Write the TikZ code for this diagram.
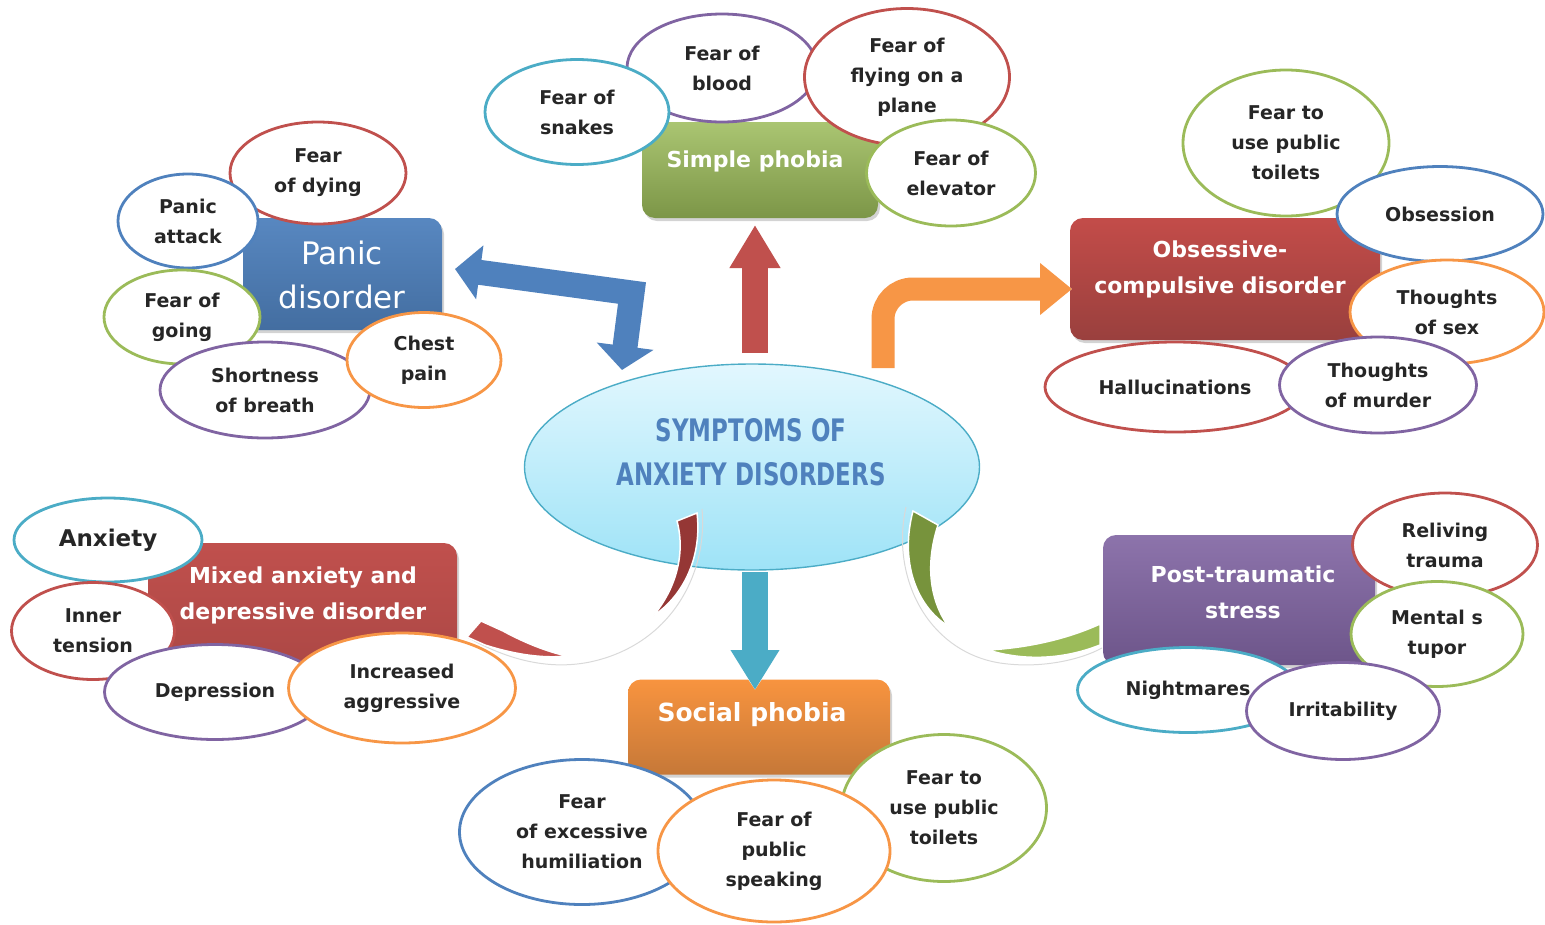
\documentclass[tikz,border=0pt]{standalone}
\usepackage{fontspec}
\setmainfont{DejaVu Sans}
\newfontfamily\cfont[FakeStretch=0.74]{DejaVu Sans}
\usetikzlibrary{shapes.geometric,arrows.meta,shadows}
\definecolor{cblue}{HTML}{4F81BD}
\definecolor{cred}{HTML}{C0504D}
\definecolor{cgreen}{HTML}{9BBB59}
\definecolor{cpurple}{HTML}{8064A2}
\definecolor{ccyan}{HTML}{4BACC6}
\definecolor{corange}{HTML}{F79646}
\definecolor{txtc}{HTML}{262626}
\definecolor{dred}{HTML}{953735}
\definecolor{dgreen}{HTML}{77933C}
\definecolor{ctop}{HTML}{E2F7FE}
\definecolor{cbot}{HTML}{9EE3F7}
\newcommand\bubfont{\fontsize{19}{30}\selectfont\bfseries}
\newcommand\boxfont{\fontsize{22}{36}\selectfont\bfseries}
\tikzset{
  bub/.style={ellipse, fill=white, line width=2.8pt, inner sep=0pt, align=center, text=txtc, font=\bubfont},
  bb/.style n args={3}{bub, draw=#1, minimum width=#2pt, minimum height=#3pt},
  catbox/.style n args={4}{rectangle, rounded corners=13pt, minimum width=#3pt, minimum height=#4pt,
    top color=#1, bottom color=#2, draw=none, inner sep=0pt,
    drop shadow={shadow xshift=2pt, shadow yshift=-3pt, opacity=0.35}},
  catlbl/.style={align=center, text=white, font=\boxfont, inner sep=0pt},
}
\begin{document}
\begin{tikzpicture}[x=1pt,y=-1pt]
\useasboundingbox (0,0) rectangle (1545,924);

% central ellipse
\node[ellipse, minimum width=455pt, minimum height=206pt, top color=ctop, bottom color=cbot,
      draw=ccyan, line width=1.4pt, inner sep=0pt] (center) at (752,467) {};
\node[align=center, text=cblue, font=\cfont\fontsize{31}{44}\selectfont\bfseries, inner sep=0pt] (ctitle) at (751,452)
  {SYMPTOMS OF\\ANXIETY DISORDERS};

% curved arrows (red to mixed, green to PTSD)
\coordinate (rA) at (697,513);
\coordinate (rTip) at (467,637);
\draw[gray!30, line width=1pt] (702,509) .. controls (708,575) and (670,645) .. (590,662) .. controls (555,669) and (515,664) .. (rTip);
\fill[dred, draw=white, line width=1.5pt] (677,521) -- (rA) .. controls (702,555) and (685,595) .. (653,616) .. controls (675,590) and (686,555) .. (677,521) -- cycle;
\fill[cred, draw=white, line width=1.5pt] (567,656) .. controls (540,659) and (510,653) .. (485,645) -- (rTip) -- (481,621) -- (503,631) .. controls (525,643) and (548,652) .. (567,656) -- cycle;

\coordinate (gA) at (913,511);
\coordinate (gEnd) at (1102,648);
\draw[gray!30, line width=1pt] (906,507) .. controls (890,580) and (930,652) .. (1000,663) .. controls (1040,669) and (1080,660) .. (gEnd);
\fill[dgreen, draw=white, line width=1.5pt] (gA) -- (938,525) .. controls (925,565) and (930,600) .. (948,626) .. controls (915,605) and (900,560) .. (gA) -- cycle;
\fill[cgreen, draw=white, line width=1.5pt] (988,650) .. controls (1030,663) and (1070,657) .. (1100,645) -- (1100,624) .. controls (1065,640) and (1025,648) .. (988,650) -- cycle;

% ---------- Panic disorder ----------
\node[catbox={cblue!95!white}{cblue!85!black}{199}{112}] (pd) at (342.5,274) {};
\node[catlbl, font=\fontsize{31}{44}\selectfont] (pdl) at (342,275) {Panic\\disorder};
\node[bb={cred}{176}{102}] (fd) at (318,173) {Fear\\of dying};
\node[bb={cblue}{140}{94}] (pa) at (188,221) {Panic\\attack};
\node[bb={cgreen}{156}{94}] (fg) at (182,317) {Fear of\\going};
\node[bb={cpurple}{210}{96}] (sb) at (265,390) {Shortness\\of breath};
\node[bb={corange}{154}{95}] (cp) at (424,360) {Chest\\pain};

% ---------- Simple phobia ----------
\node[catbox={cgreen!85!white}{cgreen!80!black}{236}{96}] (spb) at (760,170) {};
\node[catlbl] (spl) at (755,161) {Simple phobia};
\node[bb={cpurple}{190}{108}] (fb) at (722,68) {Fear of\\blood};
\node[bb={ccyan}{184}{105}] (fs) at (577,112) {Fear of\\snakes};
\node[bb={cred}{205}{137}] (ff) at (907,77) {Fear of\\flying on a\\plane};
\node[bb={cgreen}{169}{106}] (fe) at (951,173) {Fear of\\elevator};

% ---------- OCD ----------
\node[catbox={cred!95!red}{cred!80!black}{310}{122}] (ocd) at (1225,279) {};
\node[catlbl] (ocdl) at (1220,269) {Obsessive-\\compulsive disorder};
\node[bb={cgreen}{206}{146}] (ft) at (1286,143) {Fear to\\use public\\toilets};
\node[bb={cblue}{206}{95}] (ob) at (1440,214) {Obsession};
\node[bb={corange}{194}{104}] (ts) at (1447,312) {Thoughts\\of sex};
\node[bb={cred}{260}{90}] (hal) at (1175,387) {Hallucinations};
\node[bb={cpurple}{197}{96}] (tm) at (1378,385) {Thoughts\\of murder};

% ---------- Mixed anxiety ----------
\node[catbox={cred}{cred!90!black}{309}{122}] (mx) at (302.5,604) {};
\node[catlbl] (mxl) at (303,595) {Mixed anxiety and\\depressive disorder};
\node[bb={ccyan}{188}{84}, font=\fontsize{23}{30}\selectfont\bfseries] (anx) at (108,540) {Anxiety};
\node[bb={cred}{163}{97}] (it) at (93,631) {Inner\\tension};
\node[bb={cpurple}{221}{95}] (dep) at (215,692) {Depression};
\node[bb={corange}{227}{110}] (ia) at (402,688) {Increased\\aggressive};

% ---------- PTSD ----------
\node[catbox={cpurple!90!white}{cpurple!85!black}{272}{130}] (pt) at (1239,600) {};
\node[catlbl] (ptl) at (1243,592) {Post-traumatic\\stress};
\node[bb={cred}{185}{104}] (rt) at (1445,545) {Reliving\\trauma};
\node[bb={cgreen}{172}{105}] (ms) at (1437,634) {Mental s\\tupor};
\node[bb={ccyan}{221}{85}] (nm) at (1188,690) {Nightmares};
\node[bb={cpurple}{193}{97}] (ir) at (1343,711) {Irritability};

% ---------- Social phobia ----------
\node[catbox={corange!90!orange}{corange!80!black}{262}{95}] (sob) at (759,727) {};
\node[catlbl, font=\fontsize{25}{36}\selectfont\bfseries] (sol) at (752,715) {Social phobia};
\node[bb={cblue}{245}{145}] (hum) at (582,832) {Fear\\of excessive\\humiliation};
\node[bb={cgreen}{205}{147}] (ft2) at (944,808) {Fear to\\use public\\toilets};
\node[bb={corange}{232}{142}] (ps) at (774,851) {Fear of\\public\\speaking};

% ---------- straight / bent arrows ----------
\coordinate (bA) at (455,269);
\coordinate (bC) at (632,293);
\coordinate (bB) at (622,370);
\draw[white, line width=30pt, line join=miter, {Triangle[length=28pt,width=60pt]}-{Triangle[length=27pt,width=63pt]}] (bA) -- (bC) -- (bB);
\draw[cblue, line width=25pt, line join=miter, {Triangle[length=25pt,width=53pt]}-{Triangle[length=24pt,width=56pt]}] (bA) -- (bC) -- (bB);

\coordinate (rS) at (755,353);
\coordinate (rT) at (755,225);
\draw[white, line width=31pt, -{Triangle[length=46pt,width=55pt]}] (rS) -- (rT);
\draw[cred, line width=26pt, -{Triangle[length=43pt,width=48pt]}] (rS) -- (rT);

\coordinate (oS) at (883,368);
\coordinate (oC) at (883,289);
\coordinate (oT) at (1072,289);
\draw[white, line width=28pt, rounded corners=32pt, -{Triangle[length=35pt,width=57pt]}] (oS) -- (oC) -- (oT);
\draw[corange, line width=23pt, rounded corners=30pt, -{Triangle[length=32pt,width=50pt]}] (oS) -- (oC) -- (oT);

\coordinate (cS) at (755,572);
\coordinate (cT) at (755,690);
\draw[white, line width=31pt, -{Triangle[length=43pt,width=54pt]}] (cS) -- (cT);
\draw[ccyan, line width=26pt, -{Triangle[length=40pt,width=46pt]}] (cS) -- (cT);
\end{tikzpicture}
\end{document}
